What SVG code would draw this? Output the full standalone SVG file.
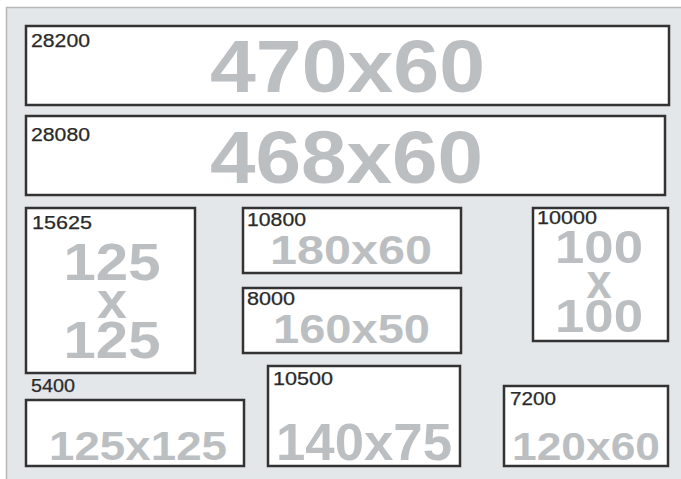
<svg xmlns="http://www.w3.org/2000/svg" width="681" height="479" viewBox="0 0 681 479">
<style>
.box{fill:#ffffff;stroke:#333333;stroke-width:2.5}
.lbl{font-family:"Liberation Sans",Arial,sans-serif;font-size:18px;fill:#2a2a2a;stroke:#2a2a2a;stroke-width:0.25}
.big{font-family:"Liberation Sans",Arial,sans-serif;font-weight:bold;fill:#bcbfc2;text-anchor:middle}
</style>
<rect x="0" y="0" width="681" height="479" fill="#ffffff"/>
<rect x="7" y="8" width="674" height="471" fill="#e3e7ea"/>
<line x1="6" y1="7.5" x2="681" y2="7.5" stroke="#b8b8b8" stroke-width="1.5"/>
<line x1="6.5" y1="7" x2="6.5" y2="479" stroke="#b8b8b8" stroke-width="1.5"/>
<g id="n28200">
<rect class="box" x="26" y="26" width="643" height="79"/>
<text class="lbl" x="31" y="47" textLength="59" lengthAdjust="spacingAndGlyphs">28200</text>
<text class="big" x="347.5" y="92" font-size="75" textLength="275" lengthAdjust="spacingAndGlyphs">470x60</text>
</g>
<g id="n28080">
<rect class="box" x="26" y="116" width="639" height="79"/>
<text class="lbl" x="31" y="141" textLength="59" lengthAdjust="spacingAndGlyphs">28080</text>
<text class="big" x="346.5" y="183" font-size="74" textLength="273" lengthAdjust="spacingAndGlyphs">468x60</text>
</g>
<g id="n15625">
<rect class="box" x="26" y="208" width="169" height="165"/>
<text class="lbl" x="32" y="229" textLength="60" lengthAdjust="spacingAndGlyphs">15625</text>
<text class="big" x="112" y="280" font-size="52" textLength="97" lengthAdjust="spacingAndGlyphs">125</text>
<text class="big" x="112" y="318" font-size="50" textLength="30" lengthAdjust="spacingAndGlyphs">x</text>
<text class="big" x="112" y="358" font-size="52" textLength="97" lengthAdjust="spacingAndGlyphs">125</text>
</g>
<g id="n10800">
<rect class="box" x="243" y="208" width="218" height="65"/>
<text class="lbl" x="247" y="226" textLength="59" lengthAdjust="spacingAndGlyphs">10800</text>
<text class="big" x="351" y="264" font-size="40" textLength="162" lengthAdjust="spacingAndGlyphs">180x60</text>
</g>
<g id="n8000">
<rect class="box" x="243" y="288" width="218" height="65"/>
<text class="lbl" x="247" y="305" textLength="48" lengthAdjust="spacingAndGlyphs">8000</text>
<text class="big" x="351.5" y="343" font-size="40" textLength="157" lengthAdjust="spacingAndGlyphs">160x50</text>
</g>
<g id="n10000">
<rect class="box" x="533" y="208" width="135" height="133"/>
<text class="lbl" x="537" y="224" textLength="60" lengthAdjust="spacingAndGlyphs">10000</text>
<text class="big" x="599" y="263" font-size="46" textLength="88" lengthAdjust="spacingAndGlyphs">100</text>
<text class="big" x="599" y="298" font-size="48" textLength="25" lengthAdjust="spacingAndGlyphs">x</text>
<text class="big" x="599" y="332" font-size="46" textLength="88" lengthAdjust="spacingAndGlyphs">100</text>
</g>
<g id="n5400">
<rect class="box" x="26" y="400" width="218" height="66"/>
<text class="lbl" x="31" y="392" textLength="44" lengthAdjust="spacingAndGlyphs">5400</text>
<text class="big" x="138" y="460" font-size="41" textLength="178" lengthAdjust="spacingAndGlyphs">125x125</text>
</g>
<g id="n10500">
<rect class="box" x="268" y="366" width="192" height="100"/>
<text class="lbl" x="273" y="385" textLength="60" lengthAdjust="spacingAndGlyphs">10500</text>
<text class="big" x="364" y="460" font-size="52" textLength="176" lengthAdjust="spacingAndGlyphs">140x75</text>
</g>
<g id="n7200">
<rect class="box" x="504" y="386" width="164" height="80"/>
<text class="lbl" x="510" y="405" textLength="46" lengthAdjust="spacingAndGlyphs">7200</text>
<text class="big" x="586" y="460" font-size="39" textLength="148" lengthAdjust="spacingAndGlyphs">120x60</text>
</g>
<g id="connectors"/>
</svg>
